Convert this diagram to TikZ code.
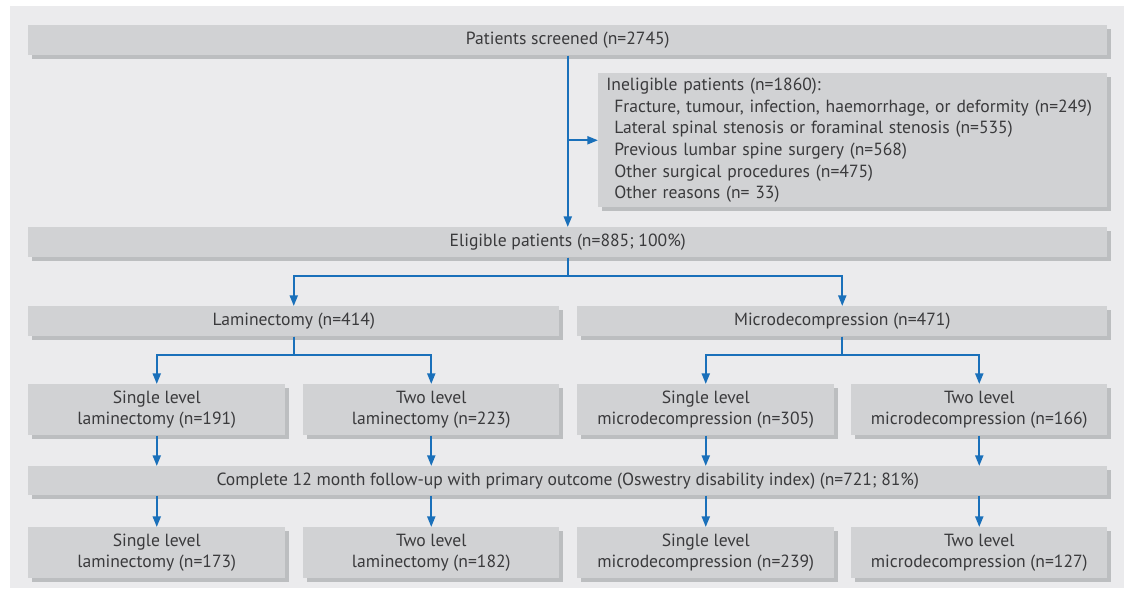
\documentclass[tikz,border=0pt]{standalone}
\usepackage{fontspec}
\setmainfont{PT Sans}
\usetikzlibrary{shadows,arrows.meta}
\definecolor{bgc}{HTML}{EBEBED}
\definecolor{boxc}{HTML}{D1D2D4}
\definecolor{shadc}{HTML}{BCBEC0}
\definecolor{arrc}{HTML}{1A70BA}
\definecolor{txtc}{HTML}{3A3A3C}
\begin{document}
\begin{tikzpicture}[x=0.75pt,y=-0.75pt,
  box/.style={fill=boxc, inner sep=0pt, text=txtc, align=center, anchor=north west,
    font=\fontsize{13.2}{15.75}\selectfont,
    general shadow={fill=shadc, shadow xshift=3pt, shadow yshift=-3pt}},
  sz/.style 2 args={minimum width=#1*0.75pt, minimum height=#2*0.75pt},
  conn/.style={draw=arrc, line width=1.5pt, -{Triangle[length=8pt,width=6pt]}}]
\useasboundingbox (0,0) rectangle (1128,590);
\fill[bgc] (10,6) rectangle (1124,588);
% nodes
\node[box, sz={1079}{30}] (screen) at (28,25) {Patients screened (n=2745)};
\node[box, sz={509}{134}, text width=369.75pt, inner xsep=6pt, align=left,
  font=\fontsize{13.2}{16.2}\selectfont] (inel) at (598,73)
  {Ineligible patients (n=1860):\\
  \hspace*{6pt}Fracture, tumour, infection, haemorrhage, or deformity (n=249)\\
  \hspace*{6pt}Lateral spinal stenosis or foraminal stenosis (n=535)\\
  \hspace*{6pt}Previous lumbar spine surgery (n=568)\\
  \hspace*{6pt}Other surgical procedures (n=475)\\
  \hspace*{6pt}Other reasons (n= 33)};
\node[box, sz={1079}{30}] (elig) at (28,227) {Eligible patients (n=885; 100\%)};
\node[box, sz={531}{30}] (lam) at (28,306) {Laminectomy (n=414)};
\node[box, sz={530}{30}] (mic) at (577,306) {Microdecompression (n=471)};
\node[box, sz={257}{51}] (s1) at (28,384) {Single level\\laminectomy (n=191)};
\node[box, sz={256}{51}] (s2) at (303,384) {Two level\\laminectomy (n=223)};
\node[box, sz={257}{51}] (s3) at (577,384) {Single level\\microdecompression (n=305)};
\node[box, sz={256}{51}] (s4) at (851,384) {Two level\\microdecompression (n=166)};
\node[box, sz={1079}{29}] (follow) at (28,466) {Complete 12 month follow-up with primary outcome (Oswestry disability index) (n=721; 81\%)};
\node[box, sz={257}{51}] (b1) at (28,527) {Single level\\laminectomy (n=173)};
\node[box, sz={256}{51}] (b2) at (303,527) {Two level\\laminectomy (n=182)};
\node[box, sz={257}{51}] (b3) at (577,527) {Single level\\microdecompression (n=239)};
\node[box, sz={256}{51}] (b4) at (851,527) {Two level\\microdecompression (n=127)};
% connectors
\draw[conn] (screen.south) -- (elig.north);
\draw[conn] (screen.south |- inel.west) -- (inel.west);
\draw[conn] (elig.south) -- ++(0,18) -| (lam.north);
\draw[conn] (elig.south) -- ++(0,18) -| (mic.north);
\draw[conn] (lam.south) -- ++(0,18) -| (s1.north);
\draw[conn] (lam.south) -- ++(0,18) -| (s2.north);
\draw[conn] (mic.south) -- ++(0,18) -| (s3.north);
\draw[conn] (mic.south) -- ++(0,18) -| (s4.north);
\foreach \i in {1,2,3,4}{
  \draw[conn] (s\i.south) -- (s\i.south |- follow.north);
  \draw[conn] (s\i.south |- follow.south) -- (b\i.north);
}
\end{tikzpicture}
\end{document}
